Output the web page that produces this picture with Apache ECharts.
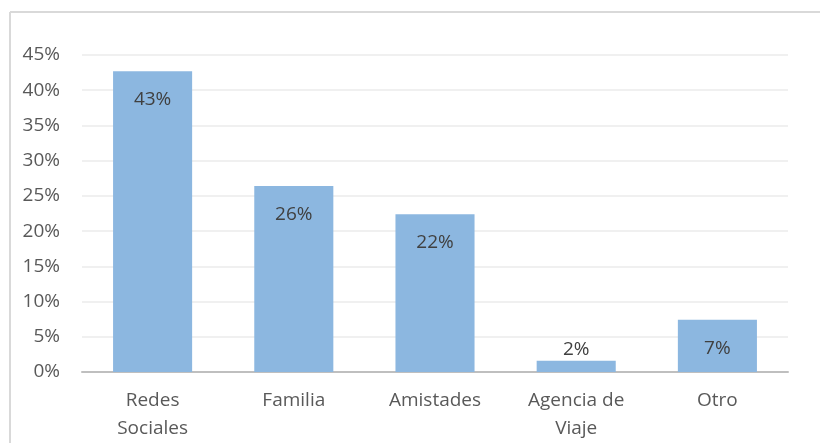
<!DOCTYPE html>
<html>
<head>
<meta charset="utf-8">
<script src="https://cdn.jsdelivr.net/npm/echarts@6/dist/echarts.min.js"></script>
<style>
  html, body { margin: 0; padding: 0; background: #fff; }
  #chart { width: 820px; height: 443px; }
</style>
</head>
<body>
<div id="chart"></div>
<script>
var categories = ['Redes\nSociales', 'Familia', 'Amistades', 'Agencia de\nViaje', 'Otro']
var values = [42.7, 26.4, 22.4, 1.6, 7.4]
var yTicks = [0, 5, 10, 15, 20, 25, 30, 35, 40, 45]

var font = 'Open Sans'

var chart = echarts.init(document.getElementById('chart'))
chart.setOption({
  backgroundColor: '#fff',
  animation: false,
  graphic: [
    { type: 'line', shape: { x1: 10, y1: 12, x2: 820, y2: 12 }, style: { stroke: '#d9d9d9', lineWidth: 2 } },
    { type: 'line', shape: { x1: 10, y1: 12, x2: 10, y2: 443 }, style: { stroke: '#d9d9d9', lineWidth: 2 } }
  ],
  grid: {
    left: 82,
    right: 32,
    top: 55,
    bottom: 71,
    containLabel: false
  },
  xAxis: {
    type: 'category',
    data: categories,
    axisLine: { lineStyle: { color: '#bfbfbf', width: 2 } },
    axisTick: { show: false },
    axisLabel: {
      color: '#595959',
      fontFamily: font,
      fontSize: 19,
      lineHeight: 28,
      margin: 15
    }
  },
  yAxis: {
    type: 'value',
    min: yTicks[0],
    max: yTicks[yTicks.length - 1],
    interval: 5,
    axisLine: { show: false },
    axisTick: { show: false },
    splitLine: { lineStyle: { color: '#ebebeb', width: 1.5 } },
    axisLabel: {
      color: '#595959',
      fontFamily: font,
      fontSize: 19,
      margin: 22,
      formatter: function (v) { return v + '%' }
    }
  },
  series: [{
    type: 'bar',
    barWidth: '56%',
    itemStyle: { color: '#8cb7e0' },
    label: {
      show: true,
      position: 'insideTop',
      distance: 19,
      color: '#404040',
      fontFamily: font,
      fontSize: 19,
      formatter: function (p) { return Math.round(p.value) + '%' }
    },
    data: values.map(function (v) {
      if (v < 5) {
        return { value: v, label: { position: 'top', distance: 2 } }
      }
      return v
    })
  }]
})
</script>
</body>
</html>
